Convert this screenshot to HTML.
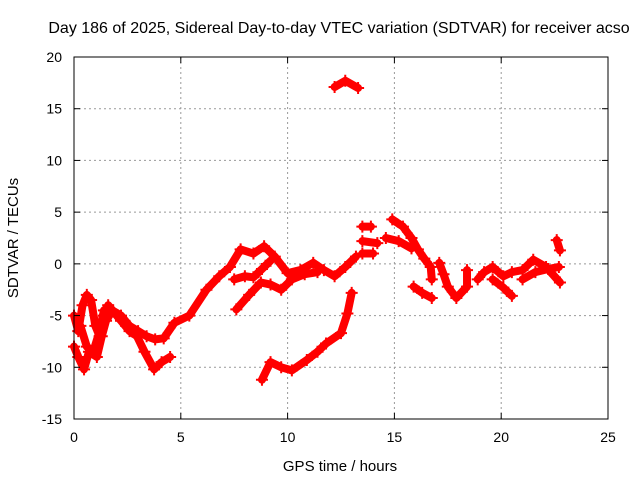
<!DOCTYPE html>
<html><head><meta charset="utf-8"><style>
body{margin:0;background:#fff}
svg text{font-family:"Liberation Sans",sans-serif;font-size:14px;fill:#000}
</style></head><body>
<svg id="chart" width="640" height="480" xmlns="http://www.w3.org/2000/svg">
<text x="339" y="33" text-anchor="middle" style="font-size:16px">Day 186 of 2025, Sidereal Day-to-day VTEC variation (SDTVAR) for receiver acso</text>
<text x="340" y="471" text-anchor="middle" style="font-size:15px">GPS time / hours</text>
<text x="0" y="0" text-anchor="middle" transform="translate(18,238) rotate(-90)" style="font-size:15px">SDTVAR / TECUs</text>
<g id="grid"></g>
<g id="marks"></g>
<rect x="74" y="57" width="534" height="362" fill="none" stroke="#000" stroke-width="1"/>
<g id="ticks"></g>
</svg>
<script>
const xTicks=[0,5,10,15,20,25];
const yTicks=[-15,-10,-5,0,5,10,15,20];
const seriesA=[[0,-5],[0.2,-6.5],[0.4,-4],[0.6,-3],[0.8,-3.5],[1,-6],[1.2,-7],[1.4,-5],[1.6,-4],[1.8,-4.5],[2.2,-5],[2.6,-6],[3,-6.5],[3.4,-7],[3.8,-7.3],[4.2,-7.2],[4.7,-5.7],[5.4,-5],[6.2,-2.5],[6.8,-1.2],[7.3,-0.3],[7.8,1.4],[8.4,1.0],[8.9,1.7],[9.4,0.7],[10,-0.9],[10.6,-0.6],[11.2,0.1],[11.7,-0.6],[12.2,-1.2],[12.7,-0.3],[13.2,0.7]];
const seriesB=[[0,-8],[0.2,-9],[0.47,-10.2],[0.7,-8.5],[1.07,-9],[1.3,-7],[1.5,-5.5],[1.8,-4.5],[2.2,-5.5],[2.6,-6.5],[2.95,-7],[3.3,-8.5],[3.75,-10.2],[4.1,-9.5],[4.5,-9]];
const seriesC=[[0.3,-6],[0.6,-8],[0.9,-8.5],[1.2,-6.5],[1.4,-4.5]];
const seriesD=[[7.6,-4.4],[8.2,-3],[8.75,-1.8],[9.2,-2],[9.7,-2.5],[10.2,-1.5],[10.8,-1],[11.4,-0.8]];
const seriesE=[[7.5,-1.5],[8,-1.2],[8.4,-1.3],[8.8,-0.5],[9.2,0.3]];
const seriesF=[[8.8,-11.2],[9.2,-9.5],[9.7,-10],[10.2,-10.3],[10.9,-9.3],[11.4,-8.5],[11.8,-7.7],[12.5,-6.7],[12.8,-4.8],[13,-2.8]];
const seriesG=[[12.2,17.1],[12.7,17.7],[13.3,17.0]];
const seriesH=[[13.5,3.6],[13.9,3.6]];
const seriesI=[[13.5,2.2],[14.2,2]];
const seriesJ=[[13.5,1.0],[14,1]];
const seriesK=[[14.9,4.3],[15.4,3.6],[15.8,2.5],[16.1,1.4],[16.4,0.5],[16.7,-0.3],[16.75,-1.5]];
const seriesL=[[14.6,2.5],[15.2,2.2],[15.8,1.5]];
const seriesM=[[15.9,-2.2],[16.3,-2.8],[16.75,-3.3]];
const seriesN=[[17.1,0.1],[17.3,-1],[17.5,-2.2],[17.9,-3.3],[18.4,-2.2],[18.4,-0.6]];
const seriesO=[[18.9,-1.5],[19.2,-0.8],[19.6,-0.3],[20.1,-1.2],[20.5,-0.8],[21,-0.6],[21.5,0.4],[22.1,-0.3],[22.75,-1.8]];
const seriesP=[[19.6,-1.5],[20.1,-2.3],[20.5,-3.1]];
const seriesQ=[[21,-1.5],[21.6,-0.8],[22.2,-0.5],[22.7,-0.3]];
const seriesR=[[22.6,2.3],[22.75,1.3]];
const allSeries=[seriesA,seriesB,seriesC,seriesD,seriesE,seriesF,seriesG,seriesH,seriesI,seriesJ,seriesK,seriesL,seriesM,seriesN,seriesO,seriesP,seriesQ,seriesR];
const X0=74,X1=608,Y0=419,Y1=57;
function xs(v){return X0+(v-0)/(25-0)*(X1-X0);}
function ys(v){return Y0-(v+15)/(35)*(Y0-Y1);}
const NS='http://www.w3.org/2000/svg';
function mk(t,a,p){const e=document.createElementNS(NS,t);for(const k in a)e.setAttribute(k,a[k]);p.appendChild(e);return e;}
const grid=document.getElementById('grid'),ticks=document.getElementById('ticks'),marks=document.getElementById('marks');
xTicks.forEach(v=>{const x=xs(v);
 if(v>0&&v<25){const l=mk('line',{x1:x,x2:x,y1:Y0,y2:Y1,stroke:'#999','stroke-dasharray':'2,3'},grid);
 
 }
 mk('line',{x1:x,x2:x,y1:Y0,y2:Y0-6,stroke:'#000'},ticks);
 mk('line',{x1:x,x2:x,y1:Y1,y2:Y1+6,stroke:'#000'},ticks);
 const t=mk('text',{x:x,y:Y0+23,'text-anchor':'middle'},ticks);t.textContent=v;
 
 });
yTicks.forEach(v=>{const y=ys(v);
 if(v>-15&&v<20){const l=mk('line',{x1:X0,x2:X1,y1:y,y2:y,stroke:'#999','stroke-dasharray':'2,3'},grid);
 
 }
 mk('line',{x1:X0,x2:X0+6,y1:y,y2:y,stroke:'#000'},ticks);
 mk('line',{x1:X1,x2:X1-6,y1:y,y2:y,stroke:'#000'},ticks);
 const t=mk('text',{x:X0-12,y:y+5,'text-anchor':'end'},ticks);t.textContent=v;
 
 });
allSeries.forEach(s=>{
 const pl=mk('polyline',{points:s.map(p=>xs(p[0])+','+ys(p[1])).join(' '),fill:'none',stroke:'#f00','stroke-width':8,'stroke-linejoin':'round','stroke-linecap':'round'},marks);
 
 
 s.forEach(p=>{const x=xs(p[0]),y=ys(p[1]);
  const m=mk('path',{d:`M${x-6},${y}h12M${x},${y-6}v12`,stroke:'#f00','stroke-width':2},marks);
  
  });
});
</script>
</body></html>
